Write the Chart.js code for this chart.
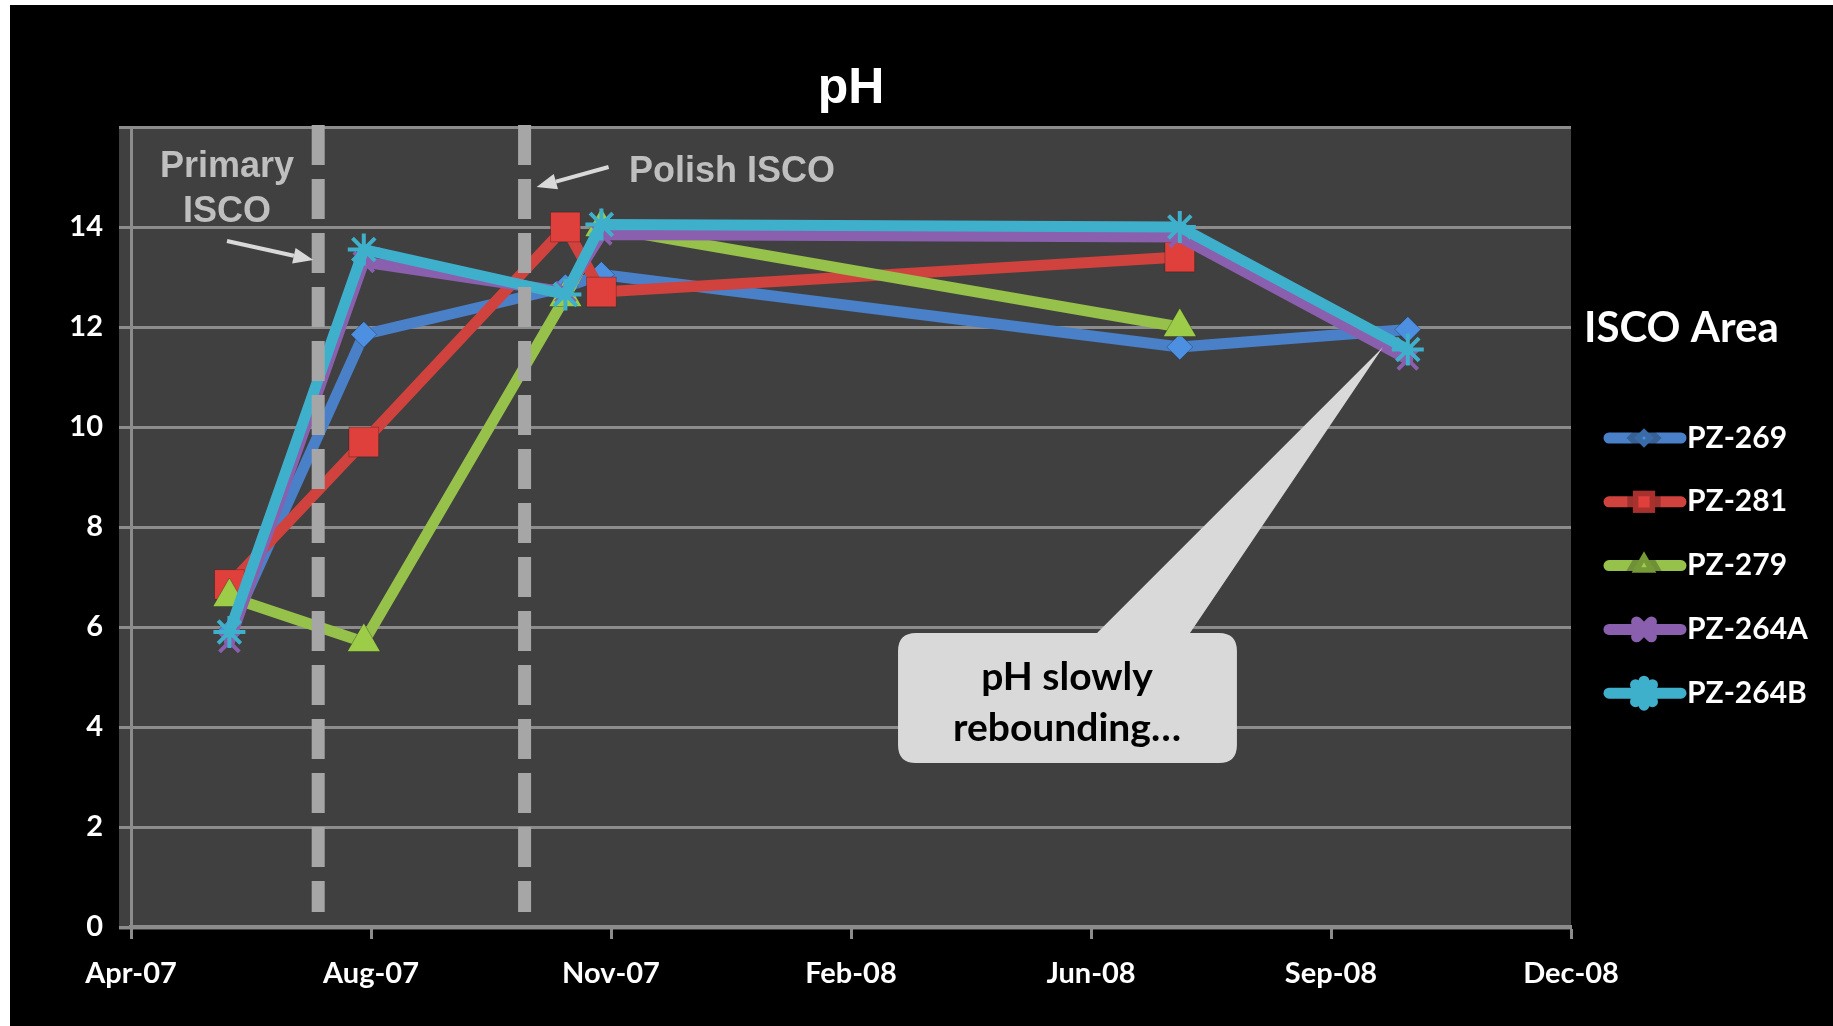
<!DOCTYPE html>
<html lang="en">
<head>
<meta charset="UTF-8">
<title>pH</title>
<script src="https://cdn.jsdelivr.net/npm/chart.js"></script>
<style>
  html, body { margin: 0; padding: 0; background: #fff; }
  #wrap { position: absolute; left: 10px; top: 5px; width: 1823px; height: 1021px; background: #000; }
</style>
</head>
<body>
<div id="wrap"><canvas id="myChart"></canvas></div>
<script>
// sampling dates (x values are Excel-style serial days, like the source sheet)
const dates = ['2007-06-08', '2007-08-03', '2007-10-26', '2007-11-10', '2008-07-08', '2008-10-11'];
const seriesNames = ['PZ-269', 'PZ-281', 'PZ-279', 'PZ-264A', 'PZ-264B'];
const pz269  = [5.9, 11.85, 12.8, 13.05, 11.6, 11.95];
const pz281  = [6.85, 9.7, 14.0, 12.7, 13.4, null];
const pz279  = [6.6, 5.7, 12.6, 14.0, 12.0, null];
const pz264a = [5.7, 13.3, 12.7, 13.85, 13.8, 11.35];
const pz264b = [5.9, 13.55, 12.65, 14.05, 14.0, 11.55];
const seriesValues = [pz269, pz281, pz279, pz264a, pz264b];

// injection events (dashed lines)
const iscoDates = ['2007-07-15', '2007-10-09'];

// axes
const xAxisMin = '2007-04-28';
const xAxisMax = '2008-12-18';
const xStepDays = 100;
const yMin = 0, yMax = 16, yStep = 2;

const MON = ['Jan','Feb','Mar','Apr','May','Jun','Jul','Aug','Sep','Oct','Nov','Dec'];
const BASE = Date.UTC(1899, 11, 30);
function serial(s) {
  const p = s.split('-').map(Number);
  return Math.round((Date.UTC(p[0], p[1] - 1, p[2]) - BASE) / 86400000);
}
function fmtDate(v) {
  const d = new Date(BASE + v * 86400000);
  return MON[d.getUTCMonth()] + '-' + String(d.getUTCFullYear()).slice(2);
}

const lineColors   = ['#4a80c8', '#d0423e', '#96c14a', '#8a5fae', '#3fb0cc'];
const markerFill   = ['#4d8fe0', '#e0403c', '#9ccc48', '#8a5fae', '#3fb0cc'];
const markerStyles = ['rectRot', 'rect', 'triangle', 'crossRot', 'star'];
const markerSizes  = [13, 21, 19, 14, 16];

const datasets = seriesNames.map((name, i) => ({
  label: name,
  data: dates.map((d, j) => ({ x: serial(d), y: seriesValues[i][j] })),
  borderColor: lineColors[i],
  backgroundColor: lineColors[i],
  borderWidth: 11,
  borderJoinStyle: 'round',
  borderCapStyle: 'round',
  tension: 0,
  pointStyle: markerStyles[i],
  pointRadius: markerSizes[i],
  pointHoverRadius: markerSizes[i],
  pointBackgroundColor: markerFill[i],
  pointBorderColor: i >= 3 ? lineColors[i] : 'rgba(0,0,0,0.25)',
  pointBorderWidth: i >= 3 ? 4 : 1,
  order: seriesNames.length - i
}));

// plot area fill
const plotBg = {
  id: 'plotBg',
  beforeDraw(chart) {
    const a = chart.chartArea, ctx = chart.ctx;
    ctx.save();
    ctx.fillStyle = '#404040';
    ctx.fillRect(a.left - 12, a.top, a.right - a.left + 12, a.bottom - a.top + 3);
    ctx.restore();
  }
};

// dashed event lines, labels, arrows and callout
function arrow(ctx, x1, y1, x2, y2) {
  const ang = Math.atan2(y2 - y1, x2 - x1);
  const hl = 20, hw = 8;
  const bx = x2 - hl * Math.cos(ang), by = y2 - hl * Math.sin(ang);
  ctx.beginPath();
  ctx.moveTo(x1, y1);
  ctx.lineTo(bx, by);
  ctx.stroke();
  ctx.beginPath();
  ctx.moveTo(x2, y2);
  ctx.lineTo(bx + hw * Math.sin(ang), by - hw * Math.cos(ang));
  ctx.lineTo(bx - hw * Math.sin(ang), by + hw * Math.cos(ang));
  ctx.closePath();
  ctx.fill();
}

const overlay = {
  id: 'overlay',
  afterDatasetsDraw(chart) {
    const ctx = chart.ctx;
    const xs = chart.scales.x, ys = chart.scales.y;
    const X = v => xs.getPixelForValue(v), Y = v => ys.getPixelForValue(v);
    ctx.save();
    // dashed lines
    ctx.strokeStyle = '#a6a6a6';
    ctx.lineWidth = 13;
    ctx.setLineDash([40, 14]);
    iscoDates.forEach(d => {
      const x = X(serial(d));
      ctx.beginPath();
      ctx.moveTo(x, Y(16.04));
      ctx.lineTo(x, Y(0.3));
      ctx.stroke();
    });
    ctx.setLineDash([]);

    // labels
    ctx.fillStyle = '#bfbfbf';
    ctx.font = 'bold 36px "Liberation Sans", Arial, sans-serif';
    ctx.textBaseline = 'middle';
    ctx.textAlign = 'center';
    ctx.fillText('Primary', X(39240), Y(15.2));
    ctx.fillText('ISCO', X(39240), Y(14.3));
    ctx.textAlign = 'left';
    ctx.fillText('Polish ISCO', X(39407.5), Y(15.1));

    // arrows
    ctx.strokeStyle = '#d9d9d9';
    ctx.fillStyle = '#d9d9d9';
    ctx.lineWidth = 4;
    arrow(ctx, X(39240), Y(13.72), X(39276), Y(13.34));
    arrow(ctx, X(39399), Y(15.2), X(39369), Y(14.8));

    // callout
    const l = X(39519.6), r = X(39660.8), t = Y(5.88), b = Y(3.28), rad = 18;
    ctx.fillStyle = '#d9d9d9';
    ctx.beginPath();
    ctx.moveTo(l + rad, t);
    ctx.lineTo(X(39602.5), t);
    ctx.lineTo(X(39721.7), Y(11.6));
    ctx.lineTo(X(39641.25), t);
    ctx.lineTo(r - rad, t);
    ctx.quadraticCurveTo(r, t, r, t + rad);
    ctx.lineTo(r, b - rad);
    ctx.quadraticCurveTo(r, b, r - rad, b);
    ctx.lineTo(l + rad, b);
    ctx.quadraticCurveTo(l, b, l, b - rad);
    ctx.lineTo(l, t + rad);
    ctx.quadraticCurveTo(l, t, l + rad, t);
    ctx.closePath();
    ctx.fill();
    ctx.fillStyle = '#000';
    ctx.font = 'bold 39px Lato, "Open Sans", sans-serif';
    ctx.textAlign = 'center';
    ctx.fillText('pH slowly', X(39590), Y(5.0));
    ctx.fillText('rebounding\u2026', X(39590), Y(3.98));
    ctx.restore();
  }
};

// legend with line + marker swatches
const iscoLegend = {
  id: 'iscoLegend',
  afterDraw(chart) {
    const ctx = chart.ctx, a = chart.chartArea;
    ctx.save();
    ctx.fillStyle = '#fff';
    ctx.textBaseline = 'middle';
    ctx.textAlign = 'left';
    ctx.font = 'bold 42px Lato, "Open Sans", sans-serif';
    ctx.fillText('ISCO Area', a.right + 13, a.top + 201);
    ctx.font = 'bold 30px Lato, "Open Sans", sans-serif';
    seriesNames.forEach((name, i) => {
      const y = a.top + 311 + 63.8 * i;
      ctx.strokeStyle = lineColors[i];
      ctx.lineWidth = 11;
      ctx.lineCap = 'round';
      ctx.beginPath();
      ctx.moveTo(a.right + 38, y);
      ctx.lineTo(a.right + 110, y);
      ctx.stroke();
      ctx.fillStyle = markerFill[i];
      ctx.strokeStyle = i >= 3 ? lineColors[i] : 'rgba(0,0,0,0.25)';
      Chart.helpers.drawPoint(ctx, {
        pointStyle: markerStyles[i],
        radius: markerSizes[i] * 0.75,
        rotation: 0,
        borderWidth: i >= 3 ? 3 : 1
      }, a.right + 73, y);
      ctx.fillStyle = '#fff';
      ctx.fillText(name, a.right + 116, y);
    });
    ctx.restore();
  }
};

const ctxEl = document.getElementById('myChart');
const myChart = new Chart(ctxEl, {
  type: 'line',
  data: { datasets: datasets },
  options: {
    responsive: true,
    maintainAspectRatio: false,
    animation: false,
    layout: { padding: { left: 41, right: 262, top: 0, bottom: 29 } },
    plugins: {
      legend: { display: false },
      tooltip: { enabled: false },
      title: {
        display: true,
        text: 'pH',
        color: '#fff',
        fullSize: false,
        font: { family: '"Liberation Sans", Arial, sans-serif', size: 50, weight: 'bold', lineHeight: 1.2 },
        padding: { top: 54, bottom: 8 }
      }
    },
    scales: {
      x: {
        type: 'linear',
        min: serial(xAxisMin),
        max: serial(xAxisMax),
        afterFit: s => { s.height = 70; },
        ticks: {
          stepSize: xStepDays,
          color: '#fff',
          font: { family: 'Lato, "Open Sans", sans-serif', size: 29, weight: 'bold' },
          padding: 17,
          maxRotation: 0,
          callback: v => fmtDate(v)
        },
        grid: { drawOnChartArea: false, drawTicks: true, tickLength: 12, tickWidth: 3, tickColor: '#8c8c8c' },
        border: { color: '#8c8c8c', width: 4 }
      },
      y: {
        min: yMin,
        max: yMax,
        afterFit: s => { s.width = 80; },
        ticks: {
          stepSize: yStep,
          color: '#fff',
          font: { family: 'Lato, "Open Sans", sans-serif', size: 29, weight: 'bold' },
          padding: 16,
          callback: v => (v === yMax ? '' : v)
        },
        grid: { color: '#8c8c8c', lineWidth: 3, tickLength: 12 },
        border: { color: '#8c8c8c', width: 3 }
      }
    }
  },
  plugins: [plotBg, overlay, iscoLegend]
});
</script>
</body>
</html>
